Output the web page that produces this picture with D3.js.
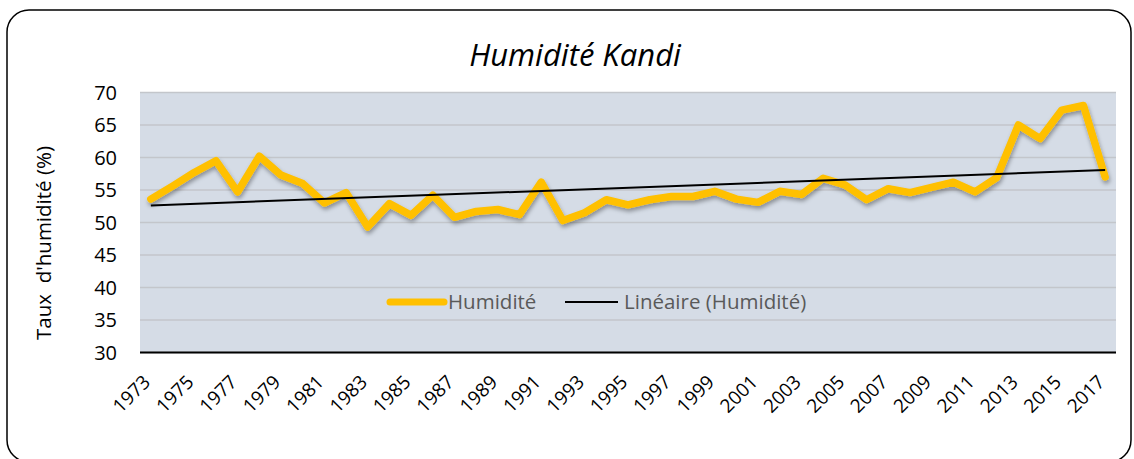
<!DOCTYPE html>
<html>
<head>
<meta charset="utf-8">
<script src="https://cdn.jsdelivr.net/npm/d3@7"></script>
<style>
body { margin: 0; background: #fff; }
svg text { font-family: "Open Sans", "Noto Sans", sans-serif; }
</style>
</head>
<body>
<svg id="chart" width="1134" height="459"></svg>
<script>
// data
let years = [];
for (let yr = 1973; yr <= 2017; yr++) years.push(yr);
let humidite = [53.6, 55.6, 57.7, 59.5, 54.7, 60.2, 57.3, 56.0, 53.0, 54.6,
    49.3, 52.9, 51.1, 54.2, 50.8, 51.7, 52.0, 51.2, 56.2, 50.3,
    51.5, 53.5, 52.7, 53.5, 54.0, 54.0, 54.8, 53.6, 53.1, 54.8,
    54.3, 56.8, 55.8, 53.5, 55.2, 54.6, 55.4, 56.2, 54.7, 56.9,
    65.0, 62.9, 67.3, 68.0, 57.0];
let yTicks = [30, 35, 40, 45, 50, 55, 60, 65, 70];
let xLabels = years.filter((d, i) => i % 2 == 0);

const svg = d3.select("#chart");
const plotLeft = 140, plotRight = 1116, plotTop = 92.5, plotBottom = 352.5;

// frame
svg.append("rect")
    .attr("x", 7).attr("y", 10)
    .attr("width", 1124).attr("height", 452)
    .attr("rx", 22)
    .attr("fill", "#fff")
    .attr("stroke", "#000").attr("stroke-width", 1.5);

let x = d3.scaleBand().domain(years).range([plotLeft, plotRight]);
let y = d3.scaleLinear().domain([30, 70]).range([plotBottom, plotTop]);

let defs = svg.append("defs");
let f = defs.append("filter").attr("id", "shadow").attr("x", "-10%").attr("y", "-10%").attr("width", "120%").attr("height", "130%");
f.append("feDropShadow").attr("dx", 1).attr("dy", 3).attr("stdDeviation", 2)
    .attr("flood-color", "#000").attr("flood-opacity", 0.35);

// plot background
svg.append("rect")
    .attr("x", plotLeft).attr("y", plotTop)
    .attr("width", plotRight - plotLeft).attr("height", plotBottom - plotTop)
    .attr("fill", "#d5dce6");

svg.append("g").selectAll("line")
    .data(yTicks)
    .enter().append("line")
    .attr("x1", plotLeft).attr("x2", plotRight)
    .attr("y1", d => y(d)).attr("y2", d => y(d))
    .attr("stroke", "#c3c6cb").attr("stroke-width", 1.5);

// y axis labels
svg.append("g").selectAll("text")
    .data(yTicks)
    .enter().append("text")
    .attr("x", 117).attr("y", d => y(d))
    .attr("dy", "0.36em")
    .attr("text-anchor", "end")
    .attr("font-size", 20)
    .attr("fill", "#000")
    .text(d => d);

svg.append("text")
    .attr("transform", "translate(44,243) rotate(-90)")
    .attr("text-anchor", "middle")
    .attr("dy", "0.35em")
    .attr("font-size", 20.5)
    .attr("fill", "#000")
    .attr("xml:space", "preserve")
    .text("Taux  d'humidité (%)");

// x axis
svg.append("line")
    .attr("x1", plotLeft).attr("x2", plotRight)
    .attr("y1", plotBottom).attr("y2", plotBottom)
    .attr("stroke", "#000").attr("stroke-width", 2);

let cx = d => x(d) + x.bandwidth() / 2;

svg.append("g").selectAll("text")
    .data(xLabels)
    .enter().append("text")
    .attr("transform", d => "translate(" + (cx(d) - 4) + "," + (plotBottom + 26) + ") rotate(-45)")
    .attr("text-anchor", "end")
    .attr("dy", "0.35em")
    .attr("font-size", 19)
    .attr("fill", "#000")
    .text(d => d);

// series
let line = d3.line().x((d, i) => cx(years[i])).y(d => y(d));
svg.append("path")
    .datum(humidite)
    .attr("d", line)
    .attr("fill", "none")
    .attr("stroke", "#ffc000")
    .attr("stroke-width", 7.5)
    .attr("stroke-linejoin", "round")
    .attr("stroke-linecap", "round")
    .attr("filter", "url(#shadow)");

// linear trend (least squares on the series)
let n = humidite.length;
let mx = d3.mean(humidite, (d, i) => i), my = d3.mean(humidite);
let sxy = d3.sum(humidite, (d, i) => (i - mx) * (d - my));
let sxx = d3.sum(humidite, (d, i) => (i - mx) * (i - mx));
let slope = sxy / sxx, icpt = my - slope * mx;
svg.append("line")
    .attr("x1", cx(years[0])).attr("y1", y(icpt))
    .attr("x2", cx(years[n - 1])).attr("y2", y(icpt + slope * (n - 1)))
    .attr("stroke", "#000").attr("stroke-width", 2);

// legend
let lg = svg.append("g");
lg.append("line").attr("x1", 390).attr("x2", 444).attr("y1", 302).attr("y2", 302)
    .attr("stroke", "#ffc000").attr("stroke-width", 7).attr("stroke-linecap", "round");
lg.append("text").attr("x", 448).attr("y", 302).attr("dy", "0.35em")
    .attr("font-size", 20.5).attr("fill", "#595959").text("Humidité");
lg.append("line").attr("x1", 565).attr("x2", 618).attr("y1", 302).attr("y2", 302)
    .attr("stroke", "#000").attr("stroke-width", 2);
lg.append("text").attr("x", 624).attr("y", 302).attr("dy", "0.35em")
    .attr("font-size", 20.5).attr("fill", "#595959").text("Linéaire (Humidité)");

// title
svg.append("text")
    .attr("x", 575).attr("y", 66)
    .attr("text-anchor", "middle")
    .attr("font-size", 31)
    .attr("font-style", "italic")
    .attr("fill", "#000")
    .text("Humidité Kandi");
</script>
</body>
</html>
